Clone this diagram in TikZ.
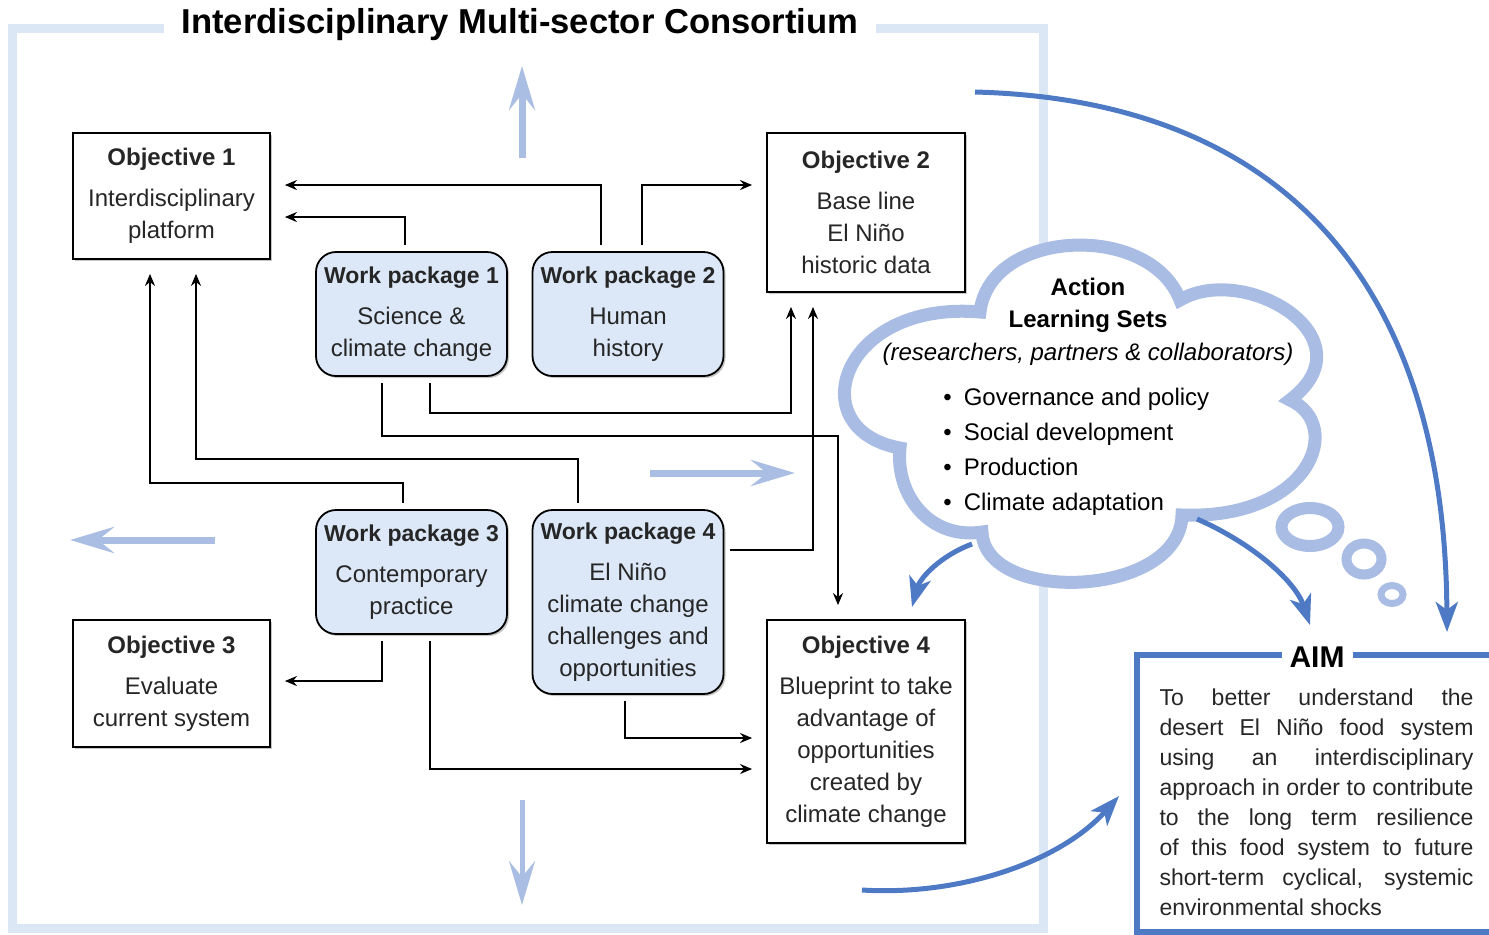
\documentclass[tikz,border=0pt]{standalone}
\usepackage{fontspec}
\setmainfont{Liberation Sans}
\usetikzlibrary{arrows.meta, shadows}

\definecolor{framebg}{HTML}{DCE7F6}
\definecolor{wpfill}{HTML}{DCE8F7}
\definecolor{flowblue}{HTML}{AABEE4}
\definecolor{cloudblue}{HTML}{A9BCE3}
\definecolor{aimblue}{HTML}{4E7AC5}

\newcommand{\wphead}[1]{{\bfseries\fontsize{11.5}{16}\selectfont #1}}

\tikzset{
  boxshadow/.style={drop shadow={shadow xshift=1pt, shadow yshift=-1pt, opacity=0.45}},
  objbox/.style={draw, line width=0.9pt, fill=white, align=center, inner sep=2pt,
    minimum width=98.5pt, text=black!85, font=\fontsize{12}{16}\selectfont, boxshadow},
  wpbox/.style={objbox, fill=wpfill, rounded corners=10pt, minimum width=95.5pt},
  conn/.style={line width=0.9pt, -{Stealth[length=6pt,width=5pt]}, shorten <=3pt, shorten >=7pt},
  flowarrow/.style={line width=3.5pt, draw=flowblue, -{Stealth[length=22pt,width=13pt,inset=8pt]}},
  aimarrow/.style={line width=2.5pt, draw=aimblue, -{Stealth[length=15pt,width=11pt,inset=4pt]}},
  bubble/.style={draw=cloudblue, fill=white, boxshadow}
}

\begin{document}
\begin{tikzpicture}[x=0.5pt, y=-0.5pt]
\useasboundingbox (0,0) rectangle (1489,934);

% consortium frame and its title
\draw[framebg, line width=4.5pt] (12,28) rectangle (1043,928);
\node[fill=white, inner xsep=9pt, inner ysep=1pt, font=\bfseries\fontsize{17.3}{20}\selectfont] (title) at (520,25) {Interdisciplinary Multi-sector Consortium};

% light flow arrows
\draw[flowarrow] (522,158) -- (522,66);
\draw[flowarrow] (650,473) -- (795,473);
\draw[flowarrow] (215,540) -- (70,540);
\draw[flowarrow, line width=2.5pt] (522,800) -- (522,905);

% objectives
\node[objbox, minimum height=63pt] (ob1) at (171.5,196) {\textbf{Objective 1}\\[4.5pt]Interdisciplinary\\platform};
\node[objbox, minimum width=99pt, minimum height=79.5pt] (ob2) at (866,212.5) {\textbf{Objective 2}\\[4.5pt]Base line\\El Niño\\historic data};
\node[objbox, minimum height=63.5pt] (ob3) at (171.5,683.5) {\textbf{Objective 3}\\[4.5pt]Evaluate\\current system};
\node[objbox, minimum width=99pt, minimum height=111.5pt] (ob4) at (866,731.5) {\textbf{Objective 4}\\[4.5pt]Blueprint to take\\advantage of\\opportunities\\created by\\climate change};

% work packages
\node[wpbox, minimum height=62pt] (wp1) at (411.5,314) {\wphead{Work package 1}\\[4.5pt]Science \&\\climate change};
\node[wpbox, minimum height=62pt] (wp2) at (628,314) {\wphead{Work package 2}\\[4.5pt]Human\\history};
\node[wpbox, minimum height=62pt] (wp3) at (411.5,572) {\wphead{Work package 3}\\[4.5pt]Contemporary\\practice};
\node[wpbox, minimum height=92pt] (wp4) at (628,602) {\wphead{Work package 4}\\[4.5pt]El Niño\\climate change\\challenges and\\opportunities};

% links between work packages and objectives
\draw[conn] ([xshift=-13.5pt]wp2.north) |- ([yshift=5.5pt]ob1.east);
\draw[conn] ([xshift=-3.25pt]wp1.north) |- ([yshift=-10.5pt]ob1.east);
\draw[conn] ([xshift=7pt]wp2.north) |- ([yshift=13.75pt]ob2.west);
\draw[conn] ([xshift=9.25pt]wp1.south) -- ++(0,36) -| ([xshift=-37.5pt]ob2.south);
\draw[conn] ([xshift=-14.75pt]wp1.south) -- ++(0,59) -| ([xshift=-14pt]ob4.north);
\draw[conn] ([xshift=-4.25pt]wp3.north) -- ++(0,-26) -| ([xshift=-10.75pt]ob1.south);
\draw[conn] ([xshift=-25pt]wp4.north) -- ++(0,-50) -| ([xshift=12.25pt]ob1.south);
\draw[conn] ([yshift=26pt]wp4.east) -| ([xshift=-26.5pt]ob2.south);
\draw[conn] ([xshift=-14.75pt]wp3.south) |- ([yshift=1.25pt]ob3.east);
\draw[conn] ([xshift=9.25pt]wp3.south) |- ([yshift=-18.75pt]ob4.west);
\draw[conn] ([xshift=-1.5pt]wp4.south) |- ([yshift=-3.25pt]ob4.west);

% action learning sets cloud (six puffs)
\draw[cloudblue, line width=6.5pt, fill=white, boxshadow]
  (980,312) .. controls (990,228) and (1150,222) .. (1180,300)
  .. controls (1245,262) and (1372,338) .. (1290,400)
  .. controls (1345,425) and (1310,520) .. (1182,515)
  .. controls (1180,598) and (985,605) .. (982,532)
  .. controls (930,540) and (895,495) .. (900,448)
  .. controls (800,430) and (840,300) .. cycle;
\node[align=center, font=\fontsize{12}{16.25}\selectfont] (alshead) at (1088,321.5)
  {\textbf{Action}\\\textbf{Learning Sets}\\\textit{(researchers, partners \& collaborators)}};
\node[anchor=west, align=left, inner sep=0pt, font=\fontsize{12}{17.5}\selectfont] (alslist) at (943,451.5)
  {\textbullet\hspace{6pt}Governance and policy\\\textbullet\hspace{6pt}Social development\\
   \textbullet\hspace{6pt}Production\\\textbullet\hspace{6pt}Climate adaptation};
\draw[bubble, line width=6pt] (1310,527) ellipse (14.25pt and 9.5pt);
\draw[bubble, line width=5pt] (1364,559) ellipse (8.75pt and 7.75pt);
\draw[bubble, line width=3.5pt] (1392,594.5) ellipse (5.5pt and 4.5pt);

% aim box
\draw[aimblue, line width=3pt] (1489,655) -- (1137,655) -- (1137,932) -- (1489,932);
\node[fill=white, inner xsep=4pt, inner ysep=0pt, font=\bfseries\fontsize{15}{18}\selectfont] (aimhead) at (1317,657) {AIM};
\node[text width=157pt, align=justify, inner sep=0pt, text=black!85, font=\fontsize{11.5}{15}\selectfont] (aimtext) at (1316.5,802.5)
  {\tolerance=9999\hyphenpenalty=10000 To better understand the\linebreak desert El Niño food system\linebreak
   using an interdisciplinary\linebreak approach in order to contribute\linebreak to the long term resilience\linebreak
   of this food system to future\linebreak short-term cyclical, systemic\linebreak environmental shocks};

% curved arrows towards the aim
\coordinate (consout) at (975,92);
\coordinate (aimright) at (1447,632);
\coordinate (alsright) at (1197,519);
\coordinate (aimleft) at (1310,625);
\coordinate (alsleft) at (972,544);
\coordinate (blueprint) at (912,607);
\coordinate (ob4out) at (862,890);
\coordinate (aimside) at (1119,796);
\draw[aimarrow] (consout) .. controls (1280,100) and (1445,280) .. (aimright);
\draw[aimarrow] (alsright) .. controls (1250,542) and (1295,580) .. (aimleft);
\draw[aimarrow] (alsleft) .. controls (940,556) and (920,578) .. (blueprint);
\draw[aimarrow] (ob4out) .. controls (960,896) and (1060,862) .. (aimside);
\end{tikzpicture}
\end{document}
